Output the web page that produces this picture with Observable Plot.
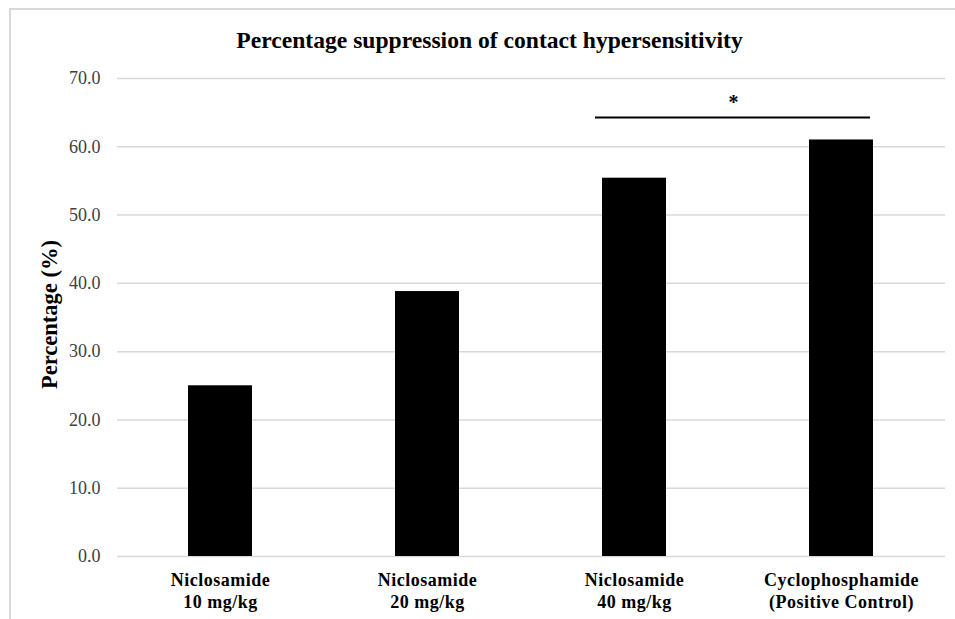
<!DOCTYPE html>
<html><head><meta charset="utf-8">
<script src="https://cdn.jsdelivr.net/npm/d3@7"></script>
<script src="https://cdn.jsdelivr.net/npm/@observablehq/plot@0.6"></script>
<style>
html,body{margin:0;padding:0;background:#fff;overflow:hidden;}
#wrap{position:relative;width:955px;height:619px;overflow:hidden;}
#border{position:absolute;left:9px;top:8px;width:2000px;height:2000px;border-top:2px solid #d9d9d9;border-left:2px solid #d9d9d9;}
#chart{position:absolute;left:0;top:0;}
g[aria-label="x-axis tick label"] text{letter-spacing:0.5px;}
</style></head><body>
<div id="wrap"><div id="border"></div><div id="chart"></div></div>
<script>
const title = "Percentage suppression of contact hypersensitivity";
const yLabel = "Percentage (%)";
const categories = ["Niclosamide\n10 mg/kg", "Niclosamide\n20 mg/kg", "Niclosamide\n40 mg/kg", "Cyclophosphamide\n(Positive Control)"];
const values = [25.0, 38.8, 55.4, 61.0];
const yTicks = [0, 10, 20, 30, 40, 50, 60, 70];
const sigFrom = categories[2];
const sigTo = categories[3];
const sigY = 64.3;
const sigLabel = "*";
const sigLabelY = 66.5;

const rows = categories.map((c, i) => ({c, v: values[i]}));

const plot = Plot.plot({
  width: 955, height: 619,
  marginLeft: 117, marginRight: 10, marginTop: 78, marginBottom: 63,
  style: {background: "transparent", fontFamily: "'Liberation Serif', serif", color: "#000", overflow: "visible"},
  x: {domain: categories, paddingInner: 0.69, paddingOuter: 0.345, label: null},
  y: {domain: [0, 70], label: null},
  marks: [
    Plot.gridY(yTicks, {stroke: "#d9d9d9", strokeOpacity: 1, strokeWidth: 1.5}),
    Plot.barY(rows, {x: "c", y: "v", fill: "#000"}),
    Plot.axisY(yTicks, {tickSize: 0, tickPadding: 17, tickFormat: d => d.toFixed(1), fontSize: 18, fill: "#404040", label: null}),
    Plot.axisX({tickSize: 0, tickPadding: 14, fontSize: 18, fontWeight: "bold", lineHeight: 1.22, fill: "#000", label: null}),
    Plot.text([title], {frameAnchor: "top", lineAnchor: "middle", dx: -42, dy: -38, fontSize: 23.6, fontWeight: "bold", fill: "#000"}),
    Plot.text([yLabel], {frameAnchor: "left", textAnchor: "middle", rotate: -90, dx: -68, dy: -3, fontSize: 22.5, fontWeight: "bold", fill: "#000"}),
    Plot.ruleY([sigY], {x1: () => sigFrom, x2: () => sigTo, y: d => d, insetLeft: -7, insetRight: 3, stroke: "#000", strokeWidth: 2}),
    Plot.text([sigLabel], {x: () => sigTo, y: () => sigLabelY, dx: -108, text: d => d, fontSize: 20, fontWeight: "bold", fill: "#000"})
  ]
});
document.getElementById("chart").appendChild(plot);
</script>
</body></html>
